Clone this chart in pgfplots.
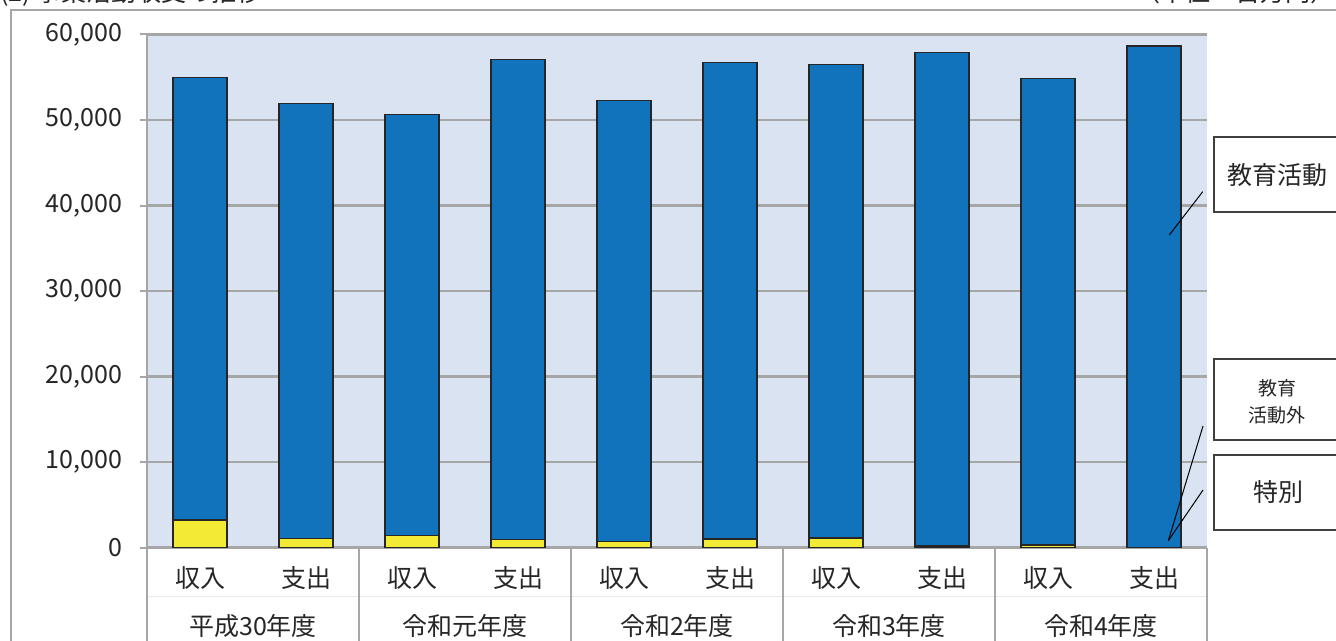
\documentclass[border=0pt]{standalone}
\usepackage{fontspec}
\setmainfont{Noto Sans CJK JP}
\usepackage{pgfplots}
\pgfplotsset{compat=1.18}
\usepackage{pgfplotstable}
\usetikzlibrary{calc}
\definecolor{barblue}{HTML}{1173BC}
\definecolor{baryellow}{HTML}{F2EA35}
\definecolor{bgblue}{HTML}{D9E3F1}
\definecolor{gridgray}{HTML}{A6A6A6}
\definecolor{txt}{HTML}{262626}
\newcommand\fs{\fontsize{12.5pt}{15pt}\selectfont}
\pgfplotstableread{
idx yellow blue
0 3240 51710
1 1050 50900
2 1400 49220
3 940 56110
4 700 51600
5 1020 55730
6 1130 55380
7 200 57670
8 320 54510
9 0 58650
}\datatable
\begin{document}
\begin{tikzpicture}
\useasboundingbox (0,0) rectangle (668pt,320.5pt);
\begin{axis}[
  at={(73.5pt,46.65pt)}, anchor=south west,
  scale only axis, width=530pt, height=256.6pt,
  xmin=-0.5, xmax=9.5, ymin=0, ymax=60000,
  ybar stacked, bar width=27pt,
  axis background/.style={fill=bgblue},
  axis x line=bottom, axis y line=left,
  axis line style={draw=gridgray, line width=1pt, -},
  ymajorgrids, grid style={draw=gridgray, line width=1.3pt},
  ytick={0,10000,...,60000},
  tick align=outside,
  major tick length=3.5pt,
  y tick style={draw=gridgray, line width=1pt},
  x tick style={draw=none},
  xtick={0,...,9},
  xticklabels={収入,支出,収入,支出,収入,支出,収入,支出,収入,支出},
  xticklabel style={font=\fs, text=txt, anchor=center, yshift=-11.5pt},
  yticklabel style={font=\fs, text=txt, xshift=-5.5pt},
  /pgf/number format/assume math mode=true,
  /pgf/number format/1000 sep={,},
  scaled y ticks=false,
  clip=false,
]
\addplot[fill=baryellow, draw=black!85, line width=0.7pt] table[x=idx, y=yellow] {\datatable};
\addplot[fill=barblue, draw=black!85, line width=0.7pt] table[x=idx, y=blue] {\datatable};
\draw[gridgray, line width=1pt] (axis cs:-0.5,0) -- ++(0pt,-50pt);
\draw[gridgray, line width=1pt] (axis cs:1.5,0) -- ++(0pt,-50pt);
\draw[gridgray, line width=1pt] (axis cs:3.5,0) -- ++(0pt,-50pt);
\draw[gridgray, line width=1pt] (axis cs:5.5,0) -- ++(0pt,-50pt);
\draw[gridgray, line width=1pt] (axis cs:7.5,0) -- ++(0pt,-50pt);
\draw[gridgray, line width=1pt] (axis cs:9.5,0) -- ++(0pt,-50pt);
\draw[gridgray!25, line width=0.6pt] ($(axis cs:-0.5,0)+(0pt,-24.5pt)$) -- ($(axis cs:9.5,0)+(0pt,-24.5pt)$);
\node[font=\fs, text=txt] at ($(axis cs:0.5,0)+(0pt,-39pt)$) {平成30年度};
\node[font=\fs, text=txt] at ($(axis cs:2.5,0)+(0pt,-39pt)$) {令和元年度};
\node[font=\fs, text=txt] at ($(axis cs:4.5,0)+(0pt,-39pt)$) {令和2年度};
\node[font=\fs, text=txt] at ($(axis cs:6.5,0)+(0pt,-39pt)$) {令和3年度};
\node[font=\fs, text=txt] at ($(axis cs:8.5,0)+(0pt,-39pt)$) {令和4年度};
\end{axis}
\begin{scope}[x=0.5pt, y=-0.5pt, shift={(0pt,320.5pt)}]
  \draw[gridgray, line width=1pt] (11,700) -- (11,10) -- (1400,10);
  \node[anchor=base west, font=\fs, text=txt, inner sep=0pt] at (0,2) {(2) 事業活動収支の推移};
  \node[anchor=base east, font=\fs, text=txt, inner sep=0pt] at (1336,2) {（単位：百万円）};
  \draw[black!75, line width=0.75pt, fill=white] (1214,137) rectangle (1400,212);
  \node[font=\fs, text=txt] at (1277,175) {教育活動};
  \draw[black!75, line width=0.75pt, fill=white] (1214,359) rectangle (1400,440);
  \node[font=\fontsize{9.5pt}{11pt}\selectfont, text=txt] at (1277,388) {教育};
  \node[font=\fontsize{9.5pt}{11pt}\selectfont, text=txt] at (1277,415) {活動外};
  \draw[black!75, line width=0.75pt, fill=white] (1214,455) rectangle (1400,530);
  \node[font=\fs, text=txt] at (1278,492) {特別};
  \draw[black, line width=0.5pt] (1202.7,191.7) -- (1169.3,235);
  \draw[black, line width=0.5pt] (1203,426) -- (1168.3,540.7);
  \draw[black, line width=0.5pt] (1203,490) -- (1168.3,540.7);
\end{scope}
\end{tikzpicture}
\end{document}
